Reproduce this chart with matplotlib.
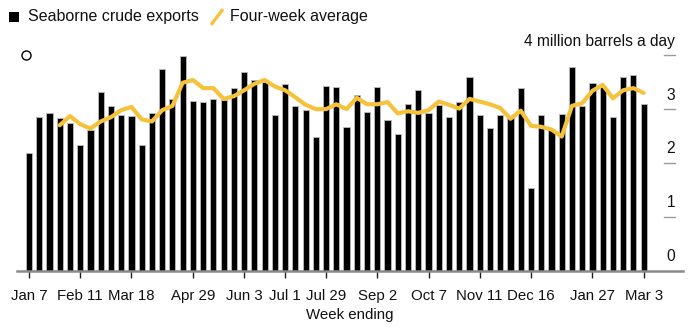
import matplotlib
matplotlib.use("Agg")
import matplotlib.pyplot as plt
import matplotlib.transforms as mtransforms
from matplotlib.lines import Line2D
from matplotlib.patches import Rectangle
import numpy as np
import pandas as pd

plt.rcParams['font.family'] = ['Liberation Sans', 'DejaVu Sans']

# Weekly seaborne crude exports (million barrels a day), weeks ending Fridays
weeks = pd.date_range("2022-01-07", periods=61, freq="7D")
exports = [2.19, 2.85, 2.93, 2.83, 2.75, 2.33, 2.62, 3.31, 3.05, 2.89,
           2.87, 2.33, 2.93, 3.75, 3.19, 3.99, 3.15, 3.13, 3.19, 3.17,
           3.39, 3.69, 3.55, 3.51, 2.89, 3.47, 3.05, 2.98, 2.49, 3.43,
           3.41, 2.67, 3.27, 2.95, 3.41, 2.79, 2.53, 3.09, 3.35, 2.93,
           3.08, 2.85, 3.13, 3.59, 2.89, 2.65, 2.89, 2.85, 3.39, 1.53,
           2.89, 2.61, 2.91, 3.79, 3.06, 3.48, 3.42, 2.85, 3.59, 3.63,
           3.09]
# Four-week average (starts at the 4th week)
avg_start = 3
four_week_avg = [2.70, 2.87, 2.72, 2.64, 2.77, 2.85, 2.98, 3.04, 2.81, 2.77,
                 2.98, 3.06, 3.49, 3.54, 3.39, 3.39, 3.19, 3.24, 3.35, 3.47,
                 3.54, 3.42, 3.35, 3.22, 3.08, 3.00, 3.00, 3.09, 3.00, 3.21,
                 3.09, 3.09, 3.13, 2.92, 2.96, 2.93, 2.98, 3.14, 3.08, 3.01,
                 3.19, 3.14, 3.09, 3.02, 2.82, 2.97, 2.69, 2.67, 2.62, 2.49,
                 3.06, 3.11, 3.34, 3.45, 3.20, 3.35, 3.39, 3.30]
tick_labels = ["Jan 7", "Feb 11", "Mar 18", "Apr 29", "Jun 3", "Jul 1", "Jul 29",
               "Sep 2", "Oct 7", "Nov 11", "Dec 16", "Jan 27", "Mar 3"]
tick_dates = ["2022-01-07", "2022-02-11", "2022-03-18", "2022-04-29", "2022-06-03",
              "2022-07-01", "2022-07-29", "2022-09-02", "2022-10-07", "2022-11-11",
              "2022-12-16", "2023-01-27", "2023-03-03"]
y_ticks = [0, 1, 2, 3, 4]
y_labels = ["0", "1", "2", "3", "4 million barrels a day"]

YELLOW = "#f5c23c"

fig = plt.figure(figsize=(7, 3.3), dpi=100)
ax = fig.add_axes([17/700, (330-270.5)/330, 666/700, 53.8*4.3/330])

x = np.arange(len(exports))
ax.bar(x, exports, width=0.6, color="black", edgecolor="#bdbdbd", linewidth=0.6, zorder=2)
xa = np.arange(avg_start, avg_start + len(four_week_avg))
ax.plot(xa, four_week_avg, color=YELLOW, linewidth=3.0, solid_joinstyle="round",
        solid_capstyle="round", zorder=3)

ax.set_xlim(-1.17, 63.84)
ax.set_ylim(0, 4.3)

for s in ["top", "right", "left"]:
    ax.spines[s].set_visible(False)
ax.spines["bottom"].set_color("#8a8a8a")
ax.spines["bottom"].set_linewidth(1.8)
ax.set_yticks([])

pos = [list(weeks).index(pd.Timestamp(d)) for d in tick_dates]
ax.set_xticks(pos)
ax.set_xticklabels(tick_labels, fontsize=10.8, color="#111111")
ax.tick_params(axis="x", length=5, width=1, color="#222222", pad=8)
ax.set_xlabel("Week ending", fontsize=10.8, color="#111111", labelpad=4)

# right-hand value labels with short tick lines
trans = mtransforms.blended_transform_factory(ax.transAxes, ax.transData)
for v, lab in zip(y_ticks, y_labels):
    if v > 0:
        ax.plot([0.9715, 0.988], [v, v], transform=trans, color="#9a9a9a",
                linewidth=1, clip_on=False)
    off = mtransforms.offset_copy(trans, fig=fig, x=0, y=14, units="dots")
    ax.text(0.988, v, lab, transform=off, ha="right", va="center",
            fontsize=11.2, color="#111111")

# small open circle annotation marker
ax.plot([-0.3], [4.0], marker="o", markersize=6.5, markerfacecolor="white",
        markeredgecolor="black", markeredgewidth=1.0, clip_on=False, zorder=4)

# legend drawn at top
fig.patches.append(Rectangle((9/700, 1-22/330), 9.5/700, 9.5/330, transform=fig.transFigure,
                             facecolor="black", edgecolor="none"))
fig.text(28/700, 1-17/330, "Seaborne crude exports", fontsize=11.5, va="center", ha="left",
         color="#111111")
fig.lines.append(Line2D([212/700, 222/700], [1-23.5/330, 1-10.5/330], transform=fig.transFigure,
                        color=YELLOW, linewidth=2.4))
fig.text(230/700, 1-17/330, "Four-week average", fontsize=11.5, va="center", ha="left",
         color="#111111")

fig.savefig("out.png", dpi=100)
